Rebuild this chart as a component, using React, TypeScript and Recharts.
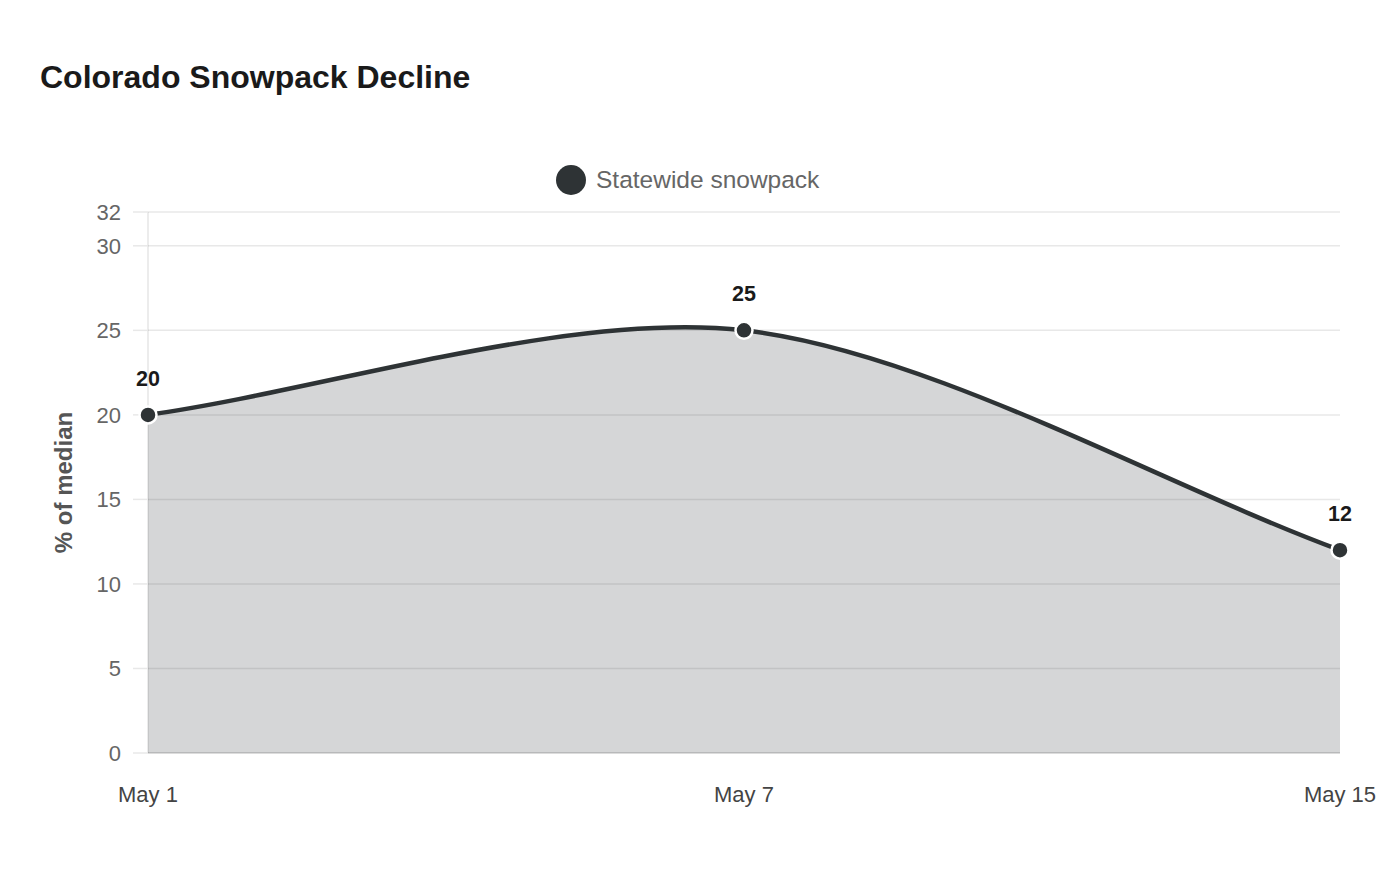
import React from "react";
import { Area, AreaChart, CartesianGrid, LabelList, Legend, XAxis, YAxis } from "recharts";

const dates = ["May 1", "May 7", "May 15"];
const snowpack = [20, 25, 12];
const yTicks = [0, 5, 10, 15, 20, 25, 30, 32];

const data = dates.map((d, i) => ({ date: d, value: snowpack[i] }));

const FONT = "'Liberation Sans', Arial, Helvetica, sans-serif";
const LINE = "#2e3335";

// bezier spline like the one chart.js draws
const splineCurve = (context: any) => {
  let pts: number[][] = [];
  let line = NaN;
  const t = 0.3;
  const ctrl = (p: number[], c: number[], n: number[]) => {
    const d01 = Math.hypot(c[0] - p[0], c[1] - p[1]);
    const d12 = Math.hypot(n[0] - c[0], n[1] - c[1]);
    const s01 = d01 / (d01 + d12) || 0;
    const s12 = d12 / (d01 + d12) || 0;
    const fa = t * s01;
    const fb = t * s12;
    return {
      before: [c[0] - fa * (n[0] - p[0]), c[1] - fa * (n[1] - p[1])],
      after: [c[0] + fb * (n[0] - p[0]), c[1] + fb * (n[1] - p[1])],
    };
  };
  return {
    areaStart() { line = 0; },
    areaEnd() { line = NaN; },
    lineStart() { pts = []; },
    point(x: number, y: number) { pts.push([+x, +y]); },
    lineEnd() {
      const n = pts.length;
      if (n) {
        if (line) context.lineTo(pts[0][0], pts[0][1]);
        else context.moveTo(pts[0][0], pts[0][1]);
        const cps = pts.map((c, i) => ctrl(pts[i - 1] || c, c, pts[i + 1] || c));
        for (let i = 1; i < n; i++) {
          const a = cps[i - 1].after;
          const b = cps[i].before;
          context.bezierCurveTo(a[0], a[1], b[0], b[1], pts[i][0], pts[i][1]);
        }
      }
      if (line || (line !== 0 && n === 1)) context.closePath();
      line = 1 - line;
    },
  };
};

const LegendContent = () => (
  <div style={{ display: "flex", alignItems: "center", fontFamily: FONT, height: 30 }}>
    <div style={{ width: 30, height: 30, borderRadius: 15, background: LINE }} />
    <span style={{ marginLeft: 10, fontSize: 24.5, color: "#666" }}>Statewide snowpack</span>
  </div>
);

const App = () => (
  <div style={{ position: "absolute", left: 0, top: 0, width: 1400, height: 880, background: "#fff" }}>
    <div
      style={{
        position: "absolute",
        left: 40,
        top: 59,
        fontFamily: FONT,
        fontWeight: 700,
        fontSize: 32,
        color: "#1a1a1a",
      }}
    >
      Colorado Snowpack Decline
    </div>
    <AreaChart width={1400} height={880} data={data} margin={{ top: 182, right: 60, bottom: 67, left: 60 }}>
      <CartesianGrid vertical={false} stroke="#e8e8e8" strokeWidth={1.5} />
      <XAxis
        dataKey="date"
        tickLine={false}
        tickSize={0}
        tickMargin={33}
        height={60}
        axisLine={{ stroke: "rgba(0,0,0,0.1)", strokeWidth: 1.5 }}
        padding={{ left: 0, right: 0 }}
        tick={{ fill: "#444", fontSize: 22, fontFamily: FONT }}
        interval={0}
      />
      <YAxis
        domain={[0, 32]}
        ticks={yTicks}
        interval={0}
        width={88}
        tickSize={15}
        tickMargin={12}
        tickLine={{ stroke: "#e8e8e8", strokeWidth: 1.5 }}
        axisLine={{ stroke: "rgba(0,0,0,0.1)", strokeWidth: 1.5 }}
        tick={{ fill: "#666", fontSize: 22, fontFamily: FONT }}
        label={{
          value: "% of median",
          angle: -90,
          position: "insideLeft",
          offset: 3,
          style: { textAnchor: "middle", fill: "#555", fontSize: 24, fontWeight: 700, fontFamily: FONT },
        }}
      />
      <Legend
        verticalAlign="top"
        wrapperStyle={{ position: "absolute", left: 556, top: 165, width: "auto" }}
        content={LegendContent}
      />
      <Area
        type={splineCurve as any}
        dataKey="value"
        name="Statewide snowpack"
        stroke={LINE}
        strokeWidth={4.5}
        fill={LINE}
        fillOpacity={0.2}
        dot={{ r: 8.5, fill: LINE, stroke: "#fff", strokeWidth: 2.5, fillOpacity: 1 }}
        activeDot={false}
        isAnimationActive={false}
      >
        <LabelList
          dataKey="value"
          position="top"
          offset={29}
          style={{ fill: "#1a1a1a", fontSize: 21.5, fontWeight: 700, fontFamily: FONT }}
        />
      </Area>
    </AreaChart>
  </div>
);

export default App;
